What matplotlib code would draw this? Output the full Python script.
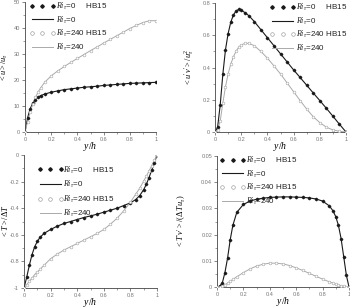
import matplotlib
matplotlib.use("Agg")
import matplotlib.pyplot as plt
from matplotlib.ticker import MultipleLocator, FixedLocator, FixedFormatter

plt.rcParams['mathtext.fontset'] = 'custom'
plt.rcParams['mathtext.it'] = 'Liberation Serif:italic'
plt.rcParams['mathtext.rm'] = 'Liberation Serif'
plt.rcParams['mathtext.bf'] = 'Liberation Serif:bold'
plt.rcParams['font.family'] = ['Liberation Sans', 'DejaVu Sans']

# ---------------- data ----------------
# Panel (a): mean velocity <u>/u_tau
u_y0 = [0, 0.02, 0.04, 0.06, 0.08, 0.1, 0.12, 0.15, 0.2, 0.25, 0.3, 0.35, 0.4, 0.45, 0.5,
        0.55, 0.6, 0.65, 0.7, 0.75, 0.8, 0.85, 0.9, 0.95, 1.0]
u_ri0 = [0, 5.5, 9.0, 11.2, 12.5, 13.4, 14.0, 14.6, 15.3, 15.8, 16.3, 16.6, 16.9, 17.2, 17.4,
         17.6, 17.9, 18.1, 18.3, 18.5, 18.7, 18.8, 18.9, 19.0, 19.1]
u_y240 = [0, 0.02, 0.04, 0.06, 0.08, 0.1, 0.12, 0.15, 0.2, 0.25, 0.3, 0.35, 0.4, 0.45, 0.5,
          0.55, 0.6, 0.65, 0.7, 0.75, 0.8, 0.85, 0.9, 0.95, 1.0]
u_ri240 = [0, 4.0, 7.8, 10.8, 13.3, 15.4, 17.0, 19.1, 21.6, 23.5, 25.2, 26.8, 28.3, 29.8, 31.3,
           32.7, 34.2, 35.6, 37.0, 38.4, 39.8, 41.0, 42.1, 42.8, 42.8]

# Panel (b): Reynolds shear stress <u'v'>/u_tau^2
s_y = [0, 0.02, 0.04, 0.06, 0.08, 0.1, 0.12, 0.14, 0.16, 0.18, 0.2, 0.23, 0.26, 0.3, 0.35,
       0.4, 0.45, 0.5, 0.55, 0.6, 0.65, 0.7, 0.75, 0.8, 0.85, 0.9, 0.95, 1.0]
s_ri0 = [0, 0.03, 0.17, 0.36, 0.51, 0.61, 0.68, 0.725, 0.75, 0.76, 0.755, 0.74, 0.72, 0.685, 0.635,
         0.585, 0.535, 0.485, 0.435, 0.385, 0.338, 0.29, 0.242, 0.195, 0.147, 0.098, 0.048, 0]
s_ri240 = [0, 0.01, 0.07, 0.18, 0.28, 0.36, 0.42, 0.465, 0.5, 0.525, 0.54, 0.55, 0.55, 0.535, 0.5,
           0.458, 0.41, 0.36, 0.305, 0.25, 0.195, 0.142, 0.095, 0.058, 0.03, 0.013, 0.004, 0]

# Panel (c): mean temperature <T>/DeltaT
t_y = [0, 0.02, 0.04, 0.06, 0.08, 0.1, 0.12, 0.15, 0.2, 0.25, 0.3, 0.35, 0.4, 0.45, 0.5, 0.55,
       0.6, 0.65, 0.7, 0.75, 0.8, 0.84, 0.87, 0.9, 0.92, 0.94, 0.96, 0.98, 1.0]
t_ri0 = [-1, -0.92, -0.83, -0.75, -0.69, -0.65, -0.62, -0.59, -0.56, -0.535, -0.515, -0.5, -0.485,
         -0.47, -0.458, -0.445, -0.43, -0.415, -0.4, -0.38, -0.36, -0.335, -0.305, -0.26, -0.22,
         -0.17, -0.115, -0.06, 0]
t_ri240 = [-1, -0.975, -0.95, -0.925, -0.9, -0.88, -0.86, -0.83, -0.78, -0.745, -0.715, -0.69, -0.665,
           -0.64, -0.615, -0.59, -0.56, -0.52, -0.475, -0.42, -0.355, -0.295, -0.25, -0.195, -0.16,
           -0.12, -0.08, -0.04, 0]

# Panel (d): turbulent heat flux <T'v'>/(DeltaT u_tau)
h_y = [0, 0.02, 0.04, 0.06, 0.08, 0.1, 0.12, 0.15, 0.2, 0.25, 0.3, 0.35, 0.4, 0.45, 0.5, 0.55,
       0.6, 0.65, 0.7, 0.75, 0.8, 0.85, 0.88, 0.9, 0.92, 0.94, 0.96, 0.98, 1.0]
h_ri0 = [0, 0.0003, 0.0015, 0.0055, 0.011, 0.018, 0.0235, 0.0285, 0.0315, 0.0328, 0.0335, 0.0339,
         0.0342, 0.0343, 0.0344, 0.0344, 0.0343, 0.0342, 0.034, 0.0336, 0.0328, 0.031, 0.029, 0.0268,
         0.0235, 0.0185, 0.0115, 0.0045, 0]
h_ri240 = [0, 0.0001, 0.0004, 0.0009, 0.0015, 0.0022, 0.0029, 0.0039, 0.0055, 0.0069, 0.008, 0.0087,
           0.0091, 0.0091, 0.0088, 0.0082, 0.0073, 0.0063, 0.0052, 0.0041, 0.003, 0.002, 0.0014,
           0.001, 0.0007, 0.0004, 0.0002, 0.0001, 0]

x_ticks = [0, 0.2, 0.4, 0.6, 0.8, 1.0]
x_ticklabels = ["0", "0.2", "0.4", "0.6", "0.8", "1"]
labels = [r"$Ri_\tau$=0     HB15", r"$Ri_\tau$=0", r"$Ri_\tau$=240 HB15", r"$Ri_\tau$=240"]

# ---------------- figure ----------------
fig = plt.figure(figsize=(3.5, 3.08), dpi=100)

TICKC = '#777777'
C0 = '#1a1a1a'
C240 = '#aaaaaa'

def setup(ax, ylim, yticks, yticklabels, yminor, ylabel, ylabel_x):
    ax.set_xlim(0, 1)
    ax.set_ylim(*ylim)
    for s in ['top', 'right']:
        ax.spines[s].set_visible(False)
    for s in ['left', 'bottom']:
        ax.spines[s].set_linewidth(0.6)
        ax.spines[s].set_color('#444444')
    ax.xaxis.set_major_locator(FixedLocator(x_ticks))
    ax.xaxis.set_major_formatter(FixedFormatter(x_ticklabels))
    ax.xaxis.set_minor_locator(MultipleLocator(0.1))
    ax.yaxis.set_major_locator(FixedLocator(yticks))
    ax.yaxis.set_major_formatter(FixedFormatter(yticklabels))
    ax.yaxis.set_minor_locator(MultipleLocator(yminor))
    ax.tick_params(which='major', direction='out', length=2, width=0.5, colors='#555555',
                   labelsize=4, labelcolor=TICKC, pad=1.5)
    ax.tick_params(which='minor', direction='out', length=1.2, width=0.4, colors='#555555')
    ax.set_xlabel(r"$y/h$", fontsize=7, labelpad=-1)
    ax.set_ylabel(ylabel, fontsize=6)
    ax.yaxis.set_label_coords(ylabel_x, 0.5)

def curves(ax, x0, y0, x240, y240):
    ax.plot(x0, y0, color=C0, lw=0.8, zorder=2)
    ax.plot(x0, y0, ls='none', marker='D', ms=1.3, mfc=C0, mec=C0, zorder=3)
    ax.plot(x240, y240, color=C240, lw=0.7, zorder=2)
    ax.plot(x240, y240, ls='none', marker='o', ms=2.0, mfc='white', mec='#999999', mew=0.35, zorder=3)

def legend(ax, anchor, spacing):
    h1, = ax.plot([], [], ls='none', marker='D', ms=1.8, mfc=C0, mec=C0)
    h2, = ax.plot([], [], color=C0, lw=0.8)
    h3, = ax.plot([], [], ls='none', marker='o', ms=2.6, mfc='white', mec='#999999', mew=0.45)
    h4, = ax.plot([], [], color=C240, lw=0.7)
    leg = ax.legend([h1, h2, h3, h4], labels, loc='upper left', bbox_to_anchor=anchor,
                    frameon=False, fontsize=5.8, numpoints=3, handlelength=3.2,
                    handletextpad=0.05, labelspacing=spacing, borderpad=0, borderaxespad=0)
    for t in leg.get_texts():
        t.set_color('#222222')

# (a)
ax1 = fig.add_axes([25/350, 1-132/308, 131/350, 130/308])
curves(ax1, u_y0, u_ri0, u_y240, u_ri240)
setup(ax1, (0, 50), [0, 10, 20, 30, 40, 50], ["0", "10", "20", "30", "40", "50"], 5,
      r"$<u>/u_\tau$", -0.115)
legend(ax1, (0.035, 1.01), 0.3)

# (b)
ax2 = fig.add_axes([215/350, 1-132/308, 131/350, 129/308])
curves(ax2, s_y, s_ri0, s_y, s_ri240)
setup(ax2, (0, 0.8), [0, 0.2, 0.4, 0.6, 0.8], ["0", "0.2", "0.4", "0.6", "0.8"], 0.1,
      r"$<u'v'>/u_\tau^2$", -0.15)
legend(ax2, (0.42, 1.01), 0.3)

# (c)
ax3 = fig.add_axes([24/350, 1-288/308, 133/350, 133/308])
curves(ax3, t_y, t_ri0, t_y, t_ri240)
setup(ax3, (-1, 0), [-1, -0.8, -0.6, -0.4, -0.2, 0], ["-1", "-0.8", "-0.6", "-0.4", "-0.2", "0"], 0.1,
      r"$<T>/\Delta T$", -0.105)
legend(ax3, (0.1, 0.93), 0.42)

# (d)
ax4 = fig.add_axes([217/350, 1-287/308, 132/350, 131/308])
curves(ax4, h_y, h_ri0, h_y, h_ri240)
setup(ax4, (0, 0.05), [0, 0.01, 0.02, 0.03, 0.04, 0.05], ["0", "0.01", "0.02", "0.03", "0.04", "0.05"],
      0.005, r"$<T'v'>/(\Delta T\,u_\tau)$", -0.22)
legend(ax4, (0.02, 1.01), 0.3)

fig.savefig("out.png", dpi=100)
